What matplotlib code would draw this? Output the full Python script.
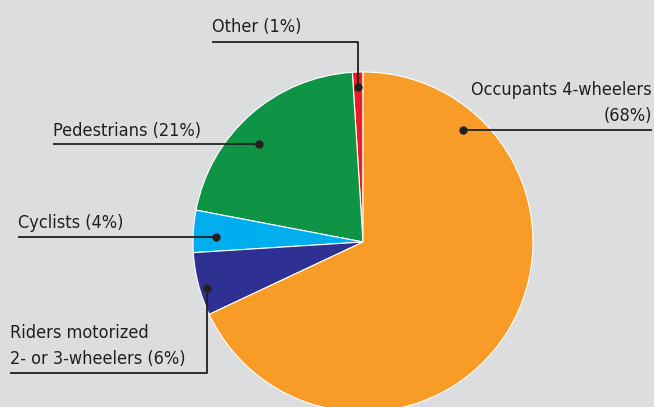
import matplotlib.pyplot as plt

plt.rcParams['font.family'] = ['DejaVu Sans']
plt.rcParams['font.stretch'] = 'condensed'

# shares of road traffic deaths, drawn counterclockwise from 12 o'clock
categories = ["Other", "Pedestrians", "Cyclists", "Riders motorized 2- or 3-wheelers", "Occupants 4-wheelers"]
shares = [1, 21, 4, 6, 68]
labels = ["Other (1%)", "Pedestrians (21%)", "Cyclists (4%)",
          "Riders motorized\n2- or 3-wheelers (6%)", "Occupants 4-wheelers\n(68%)"]
colors = ["#ec1c24", "#0f9446", "#00aeef", "#2e3192", "#f89c27"]

W, H = 654, 407
bg = "#dcdddf"
ink = "#231f20"

fig = plt.figure(figsize=(W / 100, H / 100), dpi=100, facecolor=bg)
ax = fig.add_axes([0, 0, 1, 1])
ax.set_facecolor(bg)

cx, cy, r = 363, H - 242, 170
ax.pie(shares, colors=colors, startangle=90, counterclock=True,
       center=(cx, cy), radius=r,
       wedgeprops=dict(edgecolor="white", linewidth=0.8))
ax.set_xlim(0, W)
ax.set_ylim(0, H)
ax.set_aspect("equal")
ax.axis("off")

# leader lines: dot in slice -> (corner) -> underline end; text baseline position
leaders = [
    dict(path=[(357.7, 87), (357.7, 42), (212, 42)], text=(212, 32), ha="left"),
    dict(path=[(259, 144), (53, 144)], text=(53, 136), ha="left"),
    dict(path=[(216, 236.5), (18, 236.5)], text=(18, 228), ha="left"),
    dict(path=[(207, 288), (207, 373), (10, 373)], text=(10, 364), ha="left"),
    dict(path=[(463, 129.5), (652, 129.5)], text=(652, 121), ha="right"),
]

for lab, ld in zip(labels, leaders):
    xs = [p[0] for p in ld["path"]]
    ys = [H - p[1] for p in ld["path"]]
    ax.plot(xs, ys, color=ink, lw=1.3, solid_capstyle="butt")
    ax.plot(xs[0], ys[0], "o", color=ink, ms=5)
    ax.text(ld["text"][0], H - ld["text"][1], lab, ha=ld["ha"], va="baseline",
            fontsize=13, color=ink, linespacing=1.55, multialignment=ld["ha"])

fig.savefig("out.png", dpi=100, facecolor=bg)
